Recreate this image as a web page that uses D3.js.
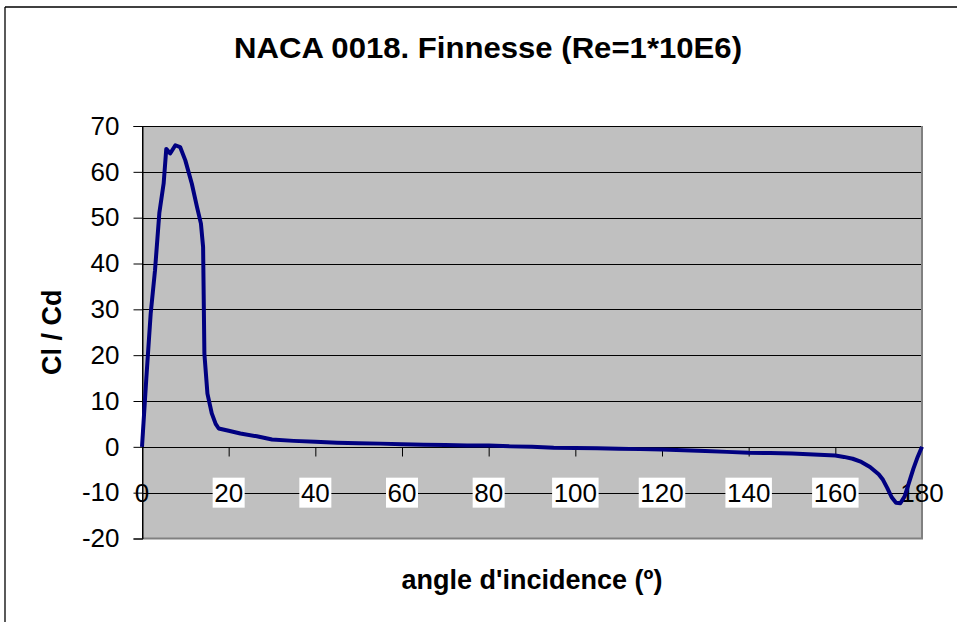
<!DOCTYPE html>
<html>
<head>
<meta charset="utf-8">
<script src="https://cdn.jsdelivr.net/npm/d3@7"></script>
<style>
  body { margin: 0; background: #fff; }
  svg { display: block; font-family: Arial, "Liberation Sans", sans-serif; }
</style>
</head>
<body>
<div id="chart"></div>
<script>
// Chart texts
var chartTitle = "NACA 0018. Finnesse (Re=1*10E6)";
var xTitle = "angle d'incidence (\u00BA)";
var yTitle = "Cl / Cd";

// Tick values
var xTicks = [0, 20, 40, 60, 80, 100, 120, 140, 160, 180];
var yTicks = [-20, -10, 0, 10, 20, 30, 40, 50, 60, 70];

// Angle of incidence (deg) and Cl/Cd
var angle = [0, 1, 2, 3, 4, 5, 5.6, 6.5, 7.7, 8.8, 10, 11.5, 12.7, 13.6, 14.1, 14.4, 15.1, 16.1, 17, 17.7,
  20, 22.7, 26.5, 30, 35, 40, 45, 50, 55, 60, 65, 70, 75, 80, 85, 90, 95, 100, 105, 110, 115, 120,
  125, 130, 135, 140, 145, 150, 155, 160, 162, 164, 166, 168, 170, 171, 172, 173, 174, 175, 176, 177, 178, 179, 180];
var finesse = [0, 15, 29, 38.5, 51, 57.5, 65, 64, 65.8, 65.4, 62.5, 57.4, 52.3, 48.7, 43.6, 20.3, 11.6, 7.3, 5, 4,
  3.5, 2.9, 2.3, 1.6, 1.3, 1.1, 0.9, 0.8, 0.7, 0.55, 0.45, 0.4, 0.3, 0.3, 0.1, 0, -0.2, -0.25, -0.3, -0.4, -0.5, -0.6,
  -0.75, -0.9, -1.1, -1.3, -1.35, -1.45, -1.65, -1.9, -2.2, -2.6, -3.3, -4.4, -6.0, -7.2, -9, -11, -12.2, -12.3, -10.8, -7.8, -4.8, -2.2, 0];

var width = 957, height = 622;

var svg = d3.select("#chart")
    .append("svg")
    .attr("width", width)
    .attr("height", height);

// Outer chart frame (top and left edges are visible)
svg.append("line")
    .attr("x1", 5).attr("y1", 7).attr("x2", width).attr("y2", 7)
    .attr("stroke", "#000").attr("stroke-width", 1.3);
svg.append("line")
    .attr("x1", 5).attr("y1", 7).attr("x2", 5).attr("y2", height)
    .attr("stroke", "#000").attr("stroke-width", 1.3);

var x = d3.scaleLinear().domain([0, 180]).range([142, 922]);
var y = d3.scaleLinear().domain([-20, 70]).range([538.5, 126]);

// Plot area
svg.append("rect")
    .attr("x", x(0))
    .attr("y", y(70))
    .attr("width", x(180) - x(0))
    .attr("height", y(-20) - y(70))
    .attr("fill", "#C0C0C0");

// Horizontal gridlines
svg.selectAll(".grid")
    .data(yTicks.filter(function(d) { return d > -20; }))
    .enter()
    .append("line")
    .attr("class", "grid")
    .attr("x1", x(0)).attr("x2", x(180))
    .attr("y1", function(d) { return Math.round(y(d)) + 0.5; })
    .attr("y2", function(d) { return Math.round(y(d)) + 0.5; })
    .attr("stroke", "#000")
    .attr("stroke-width", 1);

// Gray border right and bottom
svg.append("path")
    .attr("d", "M" + x(180) + "," + y(70) + "V" + y(-20) + "H" + x(0))
    .attr("fill", "none")
    .attr("stroke", "#808080")
    .attr("stroke-width", 2);

// Y axis (plain hyphen for negatives, like the original)
var yAxis = d3.axisLeft(y).tickValues(yTicks).tickSize(9).tickPadding(14)
    .tickFormat(function(d) { return String(d); });
var gy = svg.append("g")
    .attr("transform", "translate(" + (x(0) + 0.5) + ",0)")
    .call(yAxis);
gy.select(".domain").attr("stroke", "#000");
gy.selectAll("text")
    .attr("font-size", 26)
    .attr("font-family", "Arial, 'Liberation Sans', sans-serif")
    .attr("fill", "#000");

// X axis sits at zero, ticks pointing down
var xAxis = d3.axisBottom(x).tickValues(xTicks.filter(function(d) { return d > 0 && d < 180; })).tickSize(9).tickFormat("");
var gx = svg.append("g")
    .attr("transform", "translate(0," + (Math.round(y(0)) + 0.5) + ")")
    .call(xAxis);
gx.select(".domain").remove();

svg.append("line")
    .attr("x1", x(0)).attr("x2", x(180))
    .attr("y1", Math.round(y(0)) + 0.5).attr("y2", Math.round(y(0)) + 0.5)
    .attr("stroke", "#000");

// X tick labels on the -10 line, white boxes behind the inner ones
var labelY = y(-10);
var xLabels = svg.selectAll(".xlabel")
    .data(xTicks)
    .enter()
    .append("g")
    .attr("class", "xlabel")
    .attr("transform", function(d) { return "translate(" + x(d) + "," + labelY + ")"; });

xLabels.filter(function(d) { return d > 0 && d < 180; })
    .append("rect")
    .attr("x", function(d) { return -(String(d).length * 14.5 + 3) / 2; })
    .attr("y", -15)
    .attr("width", function(d) { return String(d).length * 14.5 + 3; })
    .attr("height", 30)
    .attr("fill", "#fff");

xLabels.append("text")
    .attr("text-anchor", "middle")
    .attr("dy", "0.36em")
    .attr("font-size", 26)
    .attr("fill", "#000")
    .text(function(d) { return d; });

// Y axis line on top of everything in the plot
svg.append("line")
    .attr("x1", x(0) + 0.5).attr("x2", x(0) + 0.5)
    .attr("y1", y(70)).attr("y2", y(-20))
    .attr("stroke", "#000");

// Data line
var points = angle.map(function(a, i) { return [a, finesse[i]]; });
var line = d3.line()
    .x(function(d) { return x(d[0]); })
    .y(function(d) { return y(d[1]); });

svg.append("path")
    .datum(points)
    .attr("d", line)
    .attr("fill", "none")
    .attr("stroke", "#000080")
    .attr("stroke-width", 4)
    .attr("stroke-linejoin", "round");

// Titles
svg.append("text")
    .attr("x", 488)
    .attr("y", 58)
    .attr("text-anchor", "middle")
    .attr("font-size", 30)
    .attr("font-weight", "bold")
    .attr("textLength", 508)
    .attr("lengthAdjust", "spacingAndGlyphs")
    .text(chartTitle);

svg.append("text")
    .attr("x", (x(0) + x(180)) / 2)
    .attr("y", 589)
    .attr("text-anchor", "middle")
    .attr("font-size", 27)
    .attr("font-weight", "bold")
    .text(xTitle);

svg.append("text")
    .attr("transform", "translate(61," + ((y(70) + y(-20)) / 2) + ") rotate(-90)")
    .attr("text-anchor", "middle")
    .attr("font-size", 27)
    .attr("font-weight", "bold")
    .text(yTitle);
</script>
</body>
</html>
